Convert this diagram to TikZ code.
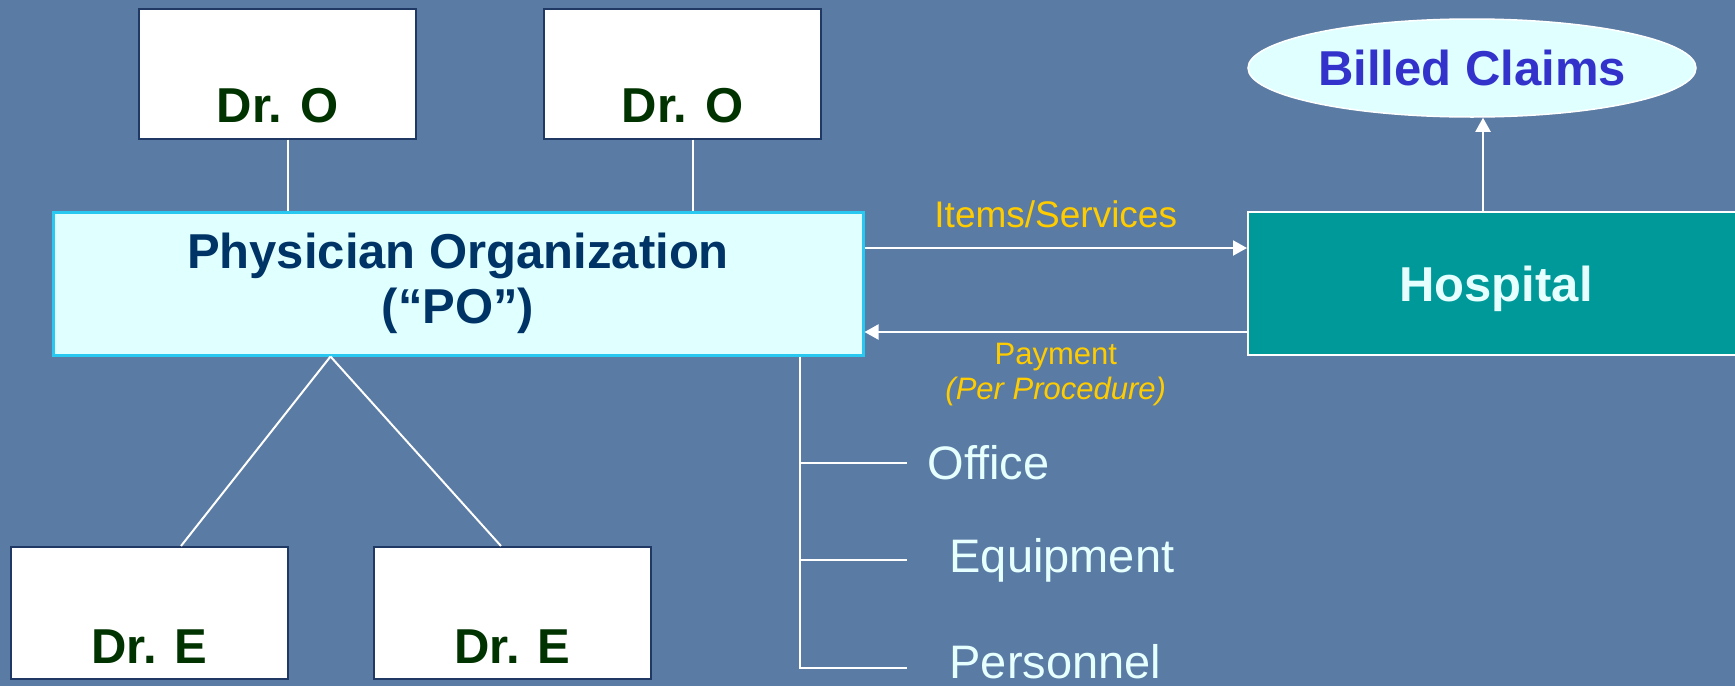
\documentclass[tikz,border=0pt]{standalone}
\usepackage{fontspec}
\setmainfont{Liberation Sans}
\usetikzlibrary{shapes.geometric,arrows,arrows.meta,positioning}
\definecolor{bgblue}{RGB}{90,123,163}
\definecolor{drnavy}{RGB}{31,56,100}
\definecolor{drgreen}{RGB}{0,51,0}
\definecolor{ponavy}{RGB}{0,51,102}
\definecolor{pofill}{RGB}{224,255,255}
\definecolor{pocyan}{RGB}{40,200,240}
\definecolor{hospteal}{RGB}{0,153,153}
\definecolor{claimblue}{RGB}{51,51,204}
\definecolor{labelyellow}{RGB}{255,204,0}
\definecolor{textcyan}{RGB}{230,255,255}
\tikzstyle{drbox}=[rectangle,draw=drnavy,line width=2pt,fill=white,minimum width=277pt,text height=114pt,text depth=16pt,inner sep=0pt,text=drgreen,font=\fontsize{49}{55}\selectfont\bfseries]
\tikzstyle{pobox}=[rectangle,draw=pocyan,line width=3pt,fill=pofill,minimum width=810pt,minimum height=143pt,align=center,text=ponavy,font=\fontsize{49}{55}\selectfont\bfseries]
\tikzstyle{hospbox}=[rectangle,draw=white,line width=2pt,fill=hospteal,minimum width=496pt,minimum height=143pt,text depth=0pt,text=textcyan,font=\fontsize{49}{55}\selectfont\bfseries]
\tikzstyle{claimnode}=[ellipse,draw=white,line width=1.5pt,fill=pofill,minimum width=448pt,minimum height=98pt,inner sep=0pt,text=claimblue,font=\fontsize{49}{55}\selectfont\bfseries]
\tikzstyle{link}=[white,line width=2pt]
\tikzstyle{arrow}=[white,line width=2pt,->,>={Triangle[length=14pt,width=15pt]}]
\tikzstyle{flowtext}=[text=labelyellow,font=\fontsize{37}{42}\selectfont]
\tikzstyle{paytext}=[text=labelyellow,font=\fontsize{31}{35}\selectfont,align=center]
\tikzstyle{sidetext}=[text=textcyan,font=\fontsize{47}{52}\selectfont]

\begin{document}
\begin{tikzpicture}[x=1pt,y=1pt,node distance=210pt]
            \useasboundingbox (0,0) rectangle (1735,-686);
            \fill [bgblue] (0,0) rectangle (1735,-686);
            \node (po)[pobox] at (458,-283.5) {Physician Organization\\(“PO”)};
            \node (dro1)[drbox,above of=po,yshift=0pt,xshift=-180.5pt]{Dr. O};
            \node (dro2)[drbox,above of=po,yshift=0pt,xshift=224.5pt]{Dr. O};
            \node (dre1)[drbox,below of=po,yshift=-119.5pt,xshift=-308.5pt,text height=116pt]{Dr. E};
            \node (dre2)[drbox,below of=po,yshift=-119.5pt,xshift=54.5pt,text height=116pt]{Dr. E};
            \node (hosp)[hospbox,right of=po,yshift=0pt,xshift=828pt]{Hospital};
            \node (claims)[claimnode,above of=hosp,yshift=5.5pt,xshift=-24pt]{Billed Claims};
            \coordinate (trunk) at ([xshift=342pt]po.south);
            \coordinate (b1) at (907,-463);
            \coordinate (b2) at (907,-560);
            \coordinate (b3) at (907,-668);
            \node (office)[sidetext,right=17pt of b1]{Office};
            \node (equip)[sidetext,right=39pt of b2]{Equipment};
            \node (staff)[sidetext,right=39pt of b3,yshift=6pt]{Personnel};
            \draw [link] ([xshift=10.5pt]dro1.south) -- ([xshift=-170pt]po.north);
            \draw [link] ([xshift=10.5pt]dro2.south) -- ([xshift=235pt]po.north);
            \draw [link] ([xshift=-127.5pt]po.south) -- ([xshift=31.5pt]dre1.north);
            \draw [link] ([xshift=-127.5pt]po.south) -- ([xshift=-11.5pt]dre2.north);
            \draw [link] (trunk) |- (b3);
            \draw [link] (trunk |- b1) -- (b1);
            \draw [link] (trunk |- b2) -- (b2);
            \draw [arrow] ([yshift=35.5pt]po.east) -- ([yshift=35.5pt]hosp.west) node[flowtext,midway,anchor=base,yshift=21pt]{Items/Services};
            \draw [arrow] ([yshift=-48.5pt]hosp.west) -- ([yshift=-48.5pt]po.east) node[paytext,midway,below=7pt]{Payment\\\textit{(Per Procedure)}};
            \draw [arrow] ([xshift=-13pt]hosp.north) -- ([xshift=11pt]claims.south);
        \end{tikzpicture}
\end{document}
